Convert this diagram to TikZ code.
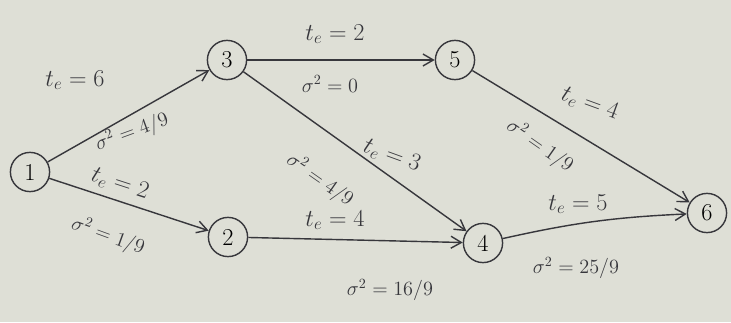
\documentclass[tikz,border=0pt]{standalone}
\usepackage{amsmath}
\usepackage{tikz}
\usetikzlibrary{
    arrows.meta,
    positioning,
    backgrounds
}
\definecolor{paper}{RGB}{222,223,214}
\definecolor{pencil}{RGB}{55,55,60}

\begin{document}
\begin{tikzpicture}[
            font=\Large,
            event/.style={draw=pencil, circle, line width=1pt, minimum size=0.98cm, inner sep=0pt, font=\LARGE},
            arr/.style={-{Straight Barb[length=2.6mm, width=3mm]}, line width=1pt, pencil},
            dur/.style={font=\LARGE, text=pencil, inner sep=1pt},
            var/.style={font=\Large, text=pencil, inner sep=1pt}
        ]
            \fill[paper] (0, 0) rectangle (18.275, 8.05);
            \useasboundingbox (0, 0) rectangle (18.275, 8.05);

            \node[event] (e1) at (0.75, 3.75) {1};
            \node[event] (e3) at (5.675, 6.55) {3};
            \node[event] (e5) at (11.375, 6.55) {5};
            \node[event] (e2) at (5.7, 2.125) {2};
            \node[event] (e4) at (12.075, 1.975) {4};
            \node[event] (e6) at (17.675, 2.725) {6};

            \draw[arr] (e1) -- (e3);
            \draw[arr] (e1) -- (e2);
            \draw[arr] (e3) -- (e5);
            \draw[arr] (e3) -- (e4);
            \draw[arr] (e2) -- (e4);
            \draw[arr] (e5) -- (e6);
            \draw[arr] (e4) to[bend left=5] (e6);

            % durations and variances
            \node[dur] (d13) at (1.875, 6.05) {$t_e=6$};
            \node[var, rotate=20] (v13) at (3.3, 4.75) {$\sigma^2=4/9$};
            \node[dur, rotate=-18] (d12) at (3.0, 3.45) {$t_e=2$};
            \node[var, rotate=-20] (v12) at (2.7, 2.15) {$\sigma^2=1/9$};
            \node[dur] (d35) at (8.375, 7.2) {$t_e=2$};
            \node[var] (v35) at (8.25, 5.95) {$\sigma^2=0$};
            \node[dur, rotate=-20] (d34) at (9.8, 4.15) {$t_e=3$};
            \node[var, rotate=-35] (v34) at (8.0, 3.55) {$\sigma^2=4/9$};
            \node[dur] (d24) at (8.375, 2.55) {$t_e=4$};
            \node[var] (v24) at (9.75, 0.8) {$\sigma^2=16/9$};
            \node[dur, rotate=-20] (d56) at (14.75, 5.45) {$t_e=4$};
            \node[var, rotate=-35] (v56) at (13.5, 4.4) {$\sigma^2=1/9$};
            \node[dur] (d46) at (14.45, 2.95) {$t_e=5$};
            \node[var] (v46) at (14.4, 1.35) {$\sigma^2=25/9$};
        \end{tikzpicture}
\end{document}
